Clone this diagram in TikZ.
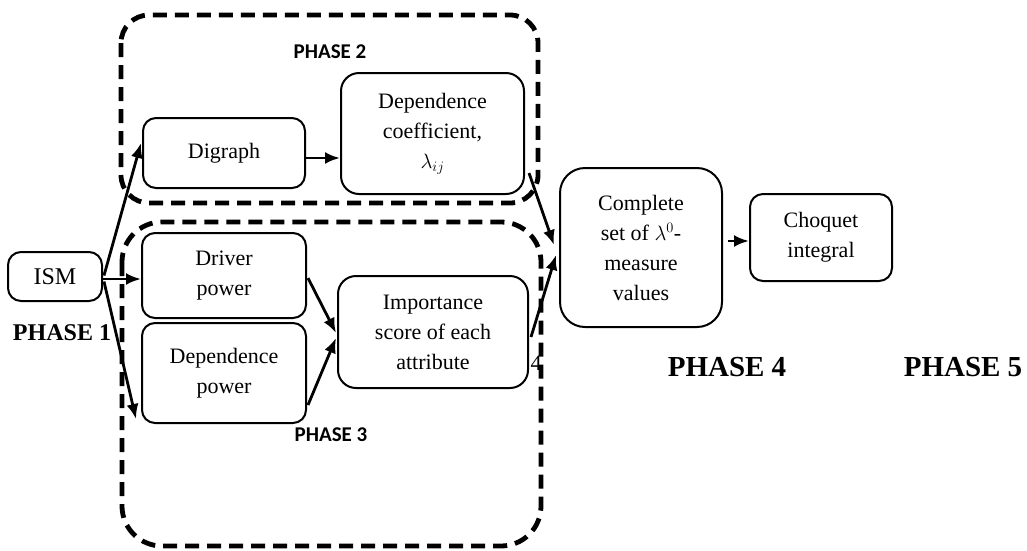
\documentclass[tikz,border=0pt]{standalone}
\usepackage{fontspec}
\setmainfont{Liberation Serif}
\newfontfamily\phasefont{Carlito}
\usetikzlibrary{arrows.meta,calc}
\begin{document}
\begin{tikzpicture}[x=1pt,y=-1pt,
  box/.style={draw, line width=2pt, rounded corners=13pt, align=center, inner sep=0pt,
    font=\fontsize{22}{30}\selectfont},
  conn/.style={line width=2.8pt, -{Latex[length=15pt,width=12pt]}},
  phasebox/.style={draw, line width=4.8pt, dash pattern=on 14pt off 8pt},
  sanslabel/.style={font=\phasefont\bfseries\fontsize{21}{24}\selectfont},
  seriflabel/.style={font=\bfseries\fontsize{29}{32}\selectfont}]
\useasboundingbox (0,0) rectangle (1027,550);
% phase frames
\draw[phasebox, rounded corners=28pt] (121,15) rectangle (538,203);
\draw[phasebox, rounded corners=40pt] (122,222) rectangle (541,546);
% nodes
\node[box, font=\fontsize{24}{30}\selectfont, minimum width=94pt, minimum height=49pt] (ism) at (55,276.5) {ISM};
\node[box, minimum width=162pt, minimum height=70pt] (digraph) at (224,153) {Digraph};
\node[box, rounded corners=18pt, minimum width=183pt, minimum height=121pt] (depcoef) at (432.5,133.5) {Dependence\\coefficient,\\$\lambda_{ij}$};
\node[box, minimum width=164pt, minimum height=85pt] (driver) at (224,275.5) {Driver\\power};
\node[box, minimum width=164pt, minimum height=100pt] (deppow) at (224,373) {Dependence\\power};
\node[box, rounded corners=18pt, minimum width=190pt, minimum height=112pt] (imp) at (433,332) {Importance\\score of each\\attribute};
\node[box, rounded corners=25pt, minimum width=162pt, minimum height=159pt] (complete) at (641,247.5) {Complete\\set of $\lambda^{0}$-\\measure\\values};
\node[box, minimum width=142pt, minimum height=87pt] (choquet) at (821,237.5) {Choquet\\integral};
% labels
\node[sanslabel] (p2) at (330,52) {PHASE 2};
\node[sanslabel] (p3) at (331,435) {PHASE 3};
\node[font=\bfseries\fontsize{24}{28}\selectfont] (p1) at (62,333) {PHASE 1};
\node[seriflabel] (p4) at (727,367) {PHASE 4};
\node[seriflabel] (p5) at (963,367) {PHASE 5};
\node[font=\fontsize{22}{24}\selectfont, inner sep=0pt] (four) at (536,363) {4};
% connectors
\draw[conn] ($(ism.east)+(1,-1)$) -- ($(digraph.west)+(-1,-10)$);
\draw[conn] ($(ism.east)+(0,2.5)$) -- ($(driver.west)+(0,3.5)$);
\draw[conn] ($(ism.east)+(1,5)$) -- ($(deppow.south west)+(-5,-5)$);
\draw[conn] ($(digraph.east)+(0,5)$) -- ($(depcoef.west)+(0,24.5)$);
\draw[conn] ($(depcoef.east)+(4,39.5)$) -- ($(complete.west)+(-5,-2.5)$);
\draw[conn] ($(driver.east)+(1,2.5)$) -- ($(imp.west)+(-1,1)$);
\draw[conn] ($(deppow.east)+(1,32)$) -- ($(imp.west)+(-1,6)$);
\draw[conn] ($(imp.east)+(2,5)$) -- ($(complete.west)+(-3,7.5)$);
\draw[conn] ($(complete.east)+(5,-6.5)$) -- ($(choquet.west)+(0,3.5)$);
\end{tikzpicture}
\end{document}
